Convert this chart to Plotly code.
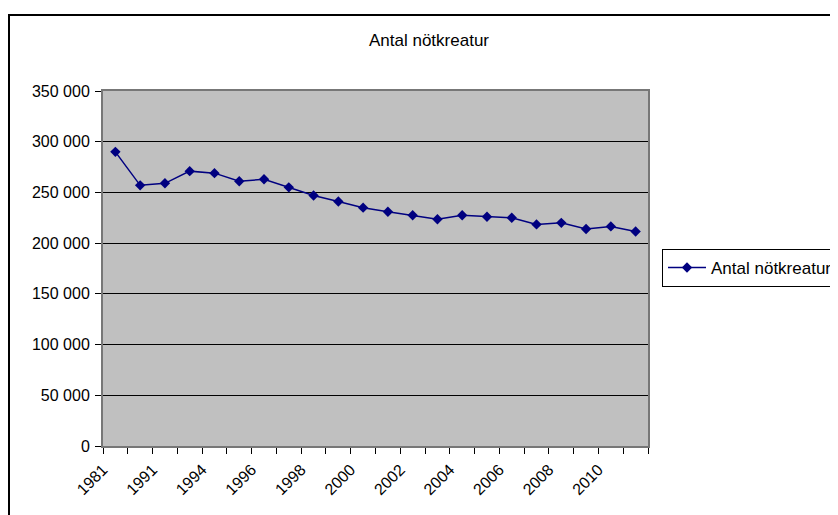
import plotly.graph_objects as go

years = ["1981", "1990", "1991", "1993", "1994", "1995", "1996", "1997", "1998", "1999",
         "2000", "2001", "2002", "2003", "2004", "2005", "2006", "2007", "2008", "2009",
         "2010", "2011"]
cattle = [290000, 257000, 259000, 271000, 269000, 261000, 263000, 255000, 247000, 241000,
          235000, 231000, 227500, 223500, 227500, 226000, 225000, 218500, 220000, 214000,
          216500, 211500]
series_name = "Antal nötkreatur"
title_text = "Antal nötkreatur"
y_ticks = [0, 50000, 100000, 150000, 200000, 250000, 300000, 350000]

idx = list(range(len(years)))
label_idx = idx[::2]

FONT = "Liberation Sans, Arial, sans-serif"
OFF = 8  # browser body margin
W, H = 838 - OFF, 515 - OFF
PL, PR, PT, PB = 103, 648, 91, 446  # plot area in window px
pw, ph = PR - PL, PB - PT


def px_x(x):
    return (x - PL) / pw


def px_y(y):
    return (PB - y) / ph


fig = go.Figure()
fig.add_trace(go.Scatter(
    x=idx, y=cattle, mode="lines+markers", name=series_name,
    line=dict(color="#000080", width=1.5),
    marker=dict(symbol="diamond", size=8, color="#000080"),
))

fig.update_layout(
    width=W, height=H,
    margin=dict(l=PL - OFF, r=W - (PR - OFF), t=PT - OFF, b=H - (PB - OFF), autoexpand=False),
    paper_bgcolor="white", plot_bgcolor="#C0C0C0",
    font=dict(family=FONT, size=16, color="black"),
    separators=", ",
    title=dict(text=title_text, x=(429 - OFF) / W, xref="container", y=1 - (40 - OFF) / H,
               yref="container", xanchor="center", yanchor="middle",
               font=dict(size=17, family=FONT, color="black")),
    showlegend=True,
    legend=dict(x=(662 - OFF) / W, xref="container", xanchor="left",
                y=1 - (268 - OFF) / H, yref="container", yanchor="middle",
                bordercolor="black", borderwidth=1, bgcolor="white",
                font=dict(size=17, family=FONT), itemwidth=38),
)

fig.update_xaxes(
    range=[-0.5, len(years) - 0.5],
    tickmode="array",
    tickvals=[i - 0.5 for i in label_idx],
    ticktext=[years[i] for i in label_idx],
    tickangle=-45,
    ticks="outside", ticklen=6, tickcolor="black", tickwidth=1,
    minor=dict(tickmode="array", tickvals=[i - 0.5 for i in range(len(years) + 1)],
               ticks="outside", ticklen=6, tickcolor="black", tickwidth=1, showgrid=False),
    showgrid=False, zeroline=False,
    showline=True, linecolor="#777777", linewidth=2, mirror=True,
    tickfont=dict(size=16, family=FONT),
)
fig.update_yaxes(
    range=[0, 350000],
    tickmode="array", tickvals=y_ticks,
    tickformat=",d",
    ticks="outside", ticklen=6, tickcolor="black", tickwidth=1,
    showgrid=True, gridcolor="black", gridwidth=1, zeroline=False,
    showline=True, linecolor="#777777", linewidth=2, mirror=True,
    tickfont=dict(size=16, family=FONT),
    ticklabelstandoff=2,
)

fig.add_shape(type="rect", xref="paper", yref="paper",
              x0=px_x(9), x1=px_x(900),
              y0=px_y(600), y1=px_y(15),
              line=dict(color="black", width=2), fillcolor="rgba(0,0,0,0)", layer="above")

fig.write_html("out.html")
